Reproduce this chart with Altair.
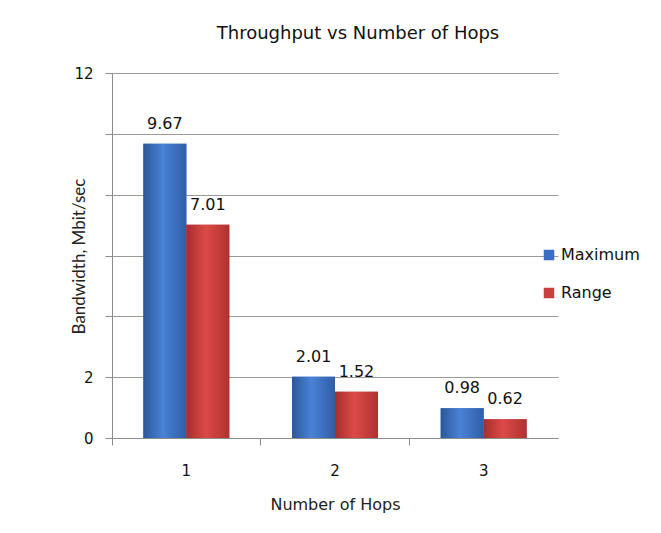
import altair as alt
import pandas as pd

hops = ["1", "2", "3"]
maximum = [9.67, 2.01, 0.98]
rng = [7.01, 1.52, 0.62]
series = ["Maximum", "Range"]
colors = ["#3C6FC2", "#C8403E"]

rows = []
for i, h in enumerate(hops):
    rows.append({"hops": h, "series": "Maximum", "value": maximum[i], "label": f"{maximum[i]:.2f}"})
    rows.append({"hops": h, "series": "Range", "value": rng[i], "label": f"{rng[i]:.2f}"})
df = pd.DataFrame(rows)

FONT = "DejaVu Sans"
VFONT = "Lato"

x = alt.X("hops:N", title="Number of Hops",
          scale=alt.Scale(paddingInner=0, paddingOuter=0),
          axis=alt.Axis(labelAngle=0, bandPosition=0, tickSize=7, labelPadding=18,
                        titlePadding=18, domainColor="#8C8C8C", tickColor="#8C8C8C",
                        labelFontSize=15, titleFontSize=16, labelColor="#111",
                        titleColor="#222", labelFont=FONT, titleFont=FONT, titleFontWeight="normal"))
xo = alt.XOffset("series:N", scale=alt.Scale(domain=series, paddingInner=0, paddingOuter=0.73))
y = alt.Y("value:Q", title="Bandwidth, Mbit/sec",
          scale=alt.Scale(domain=[0, 12], nice=False),
          axis=alt.Axis(values=[0, 2, 4, 6, 8, 10, 12],
                        labelExpr="(datum.value == 0 || datum.value == 2 || datum.value == 12) ? datum.label : ''",
                        tickSize=7, labelPadding=12, gridColor="#9A9A9A",
                        titleX=-24, titleY=183, titleAlign="center",
                        domainColor="#8C8C8C", tickColor="#8C8C8C", labelFontSize=15,
                        titleFontSize=17, labelColor="#111", titleColor="#222",
                        labelFont=FONT, titleFont=VFONT, titleFontWeight="normal"))

base = alt.Chart(df)
bars = base.mark_bar().encode(
    x=x, xOffset=xo, y=y,
    color=alt.Color("series:N", scale=alt.Scale(domain=series, range=colors),
                    legend=alt.Legend(title=None, orient="none", legendX=429, legendY=174,
                                      symbolType="square", symbolSize=110, labelFontSize=16,
                                      labelFont=FONT, labelColor="#111", rowPadding=22,
                                      symbolStrokeWidth=0)),
)

grad_blue = alt.Gradient(gradient="linear", x1=0, x2=1, y1=0, y2=0,
                         stops=[alt.GradientStop(offset=0, color="#2B5799"),
                                alt.GradientStop(offset=0.45, color="#4A82D6"),
                                alt.GradientStop(offset=1, color="#2F5EA6")])
grad_red = alt.Gradient(gradient="linear", x1=0, x2=1, y1=0, y2=0,
                        stops=[alt.GradientStop(offset=0, color="#A52E2C"),
                               alt.GradientStop(offset=0.45, color="#DC4A47"),
                               alt.GradientStop(offset=1, color="#AE3230")])
over_b = base.mark_bar(color=grad_blue).encode(x=x, xOffset=xo, y=y).transform_filter("datum.series == 'Maximum'")
over_r = base.mark_bar(color=grad_red).encode(x=x, xOffset=xo, y=y).transform_filter("datum.series == 'Range'")

labels = base.mark_text(dy=-12, baseline="bottom", align="center", fontSize=16, font=FONT,
                        color="#111").encode(x=x, xOffset=xo, y=y, text="label:N")

chart = alt.layer(bars, over_b, over_r, labels).properties(
    width=446, height=365,
    title=alt.TitleParams("Throughput  vs Number  of Hops", fontSize=18, font=FONT,
                          fontWeight="normal", color="#111", dx=23, offset=23),
    padding={"left": 104, "top": 65, "right": 95, "bottom": 87},
    autosize="none",
).configure_view(stroke=None)

chart.save("out.html", embed_options={"renderer": "svg", "actions": False})
